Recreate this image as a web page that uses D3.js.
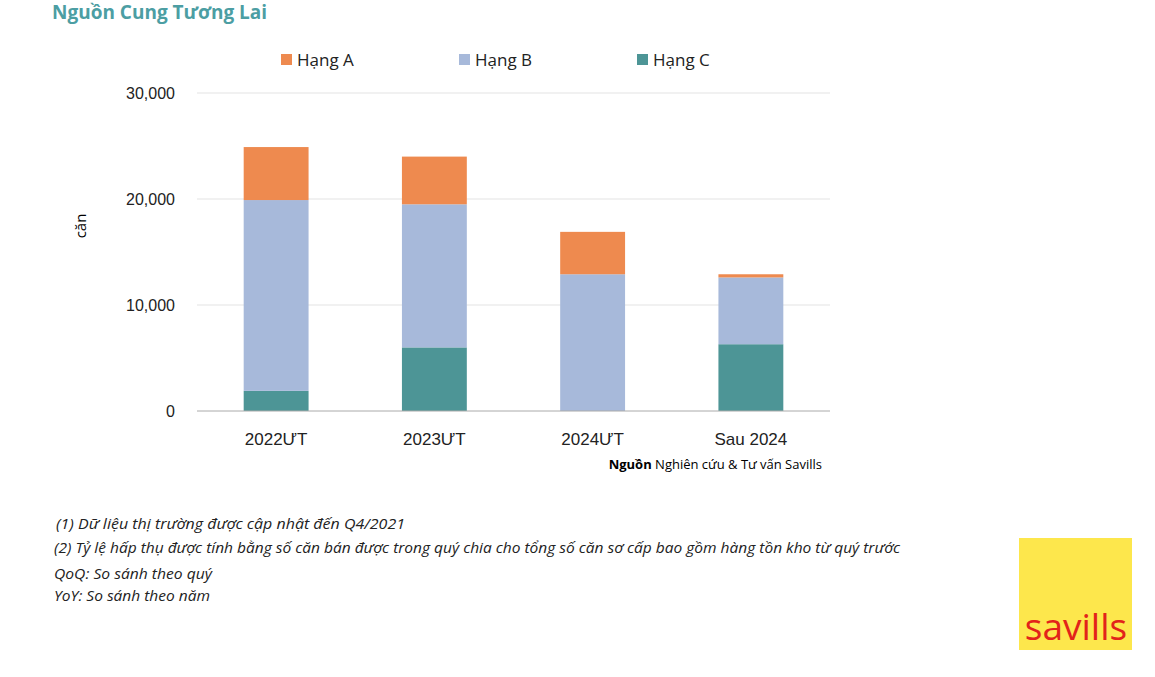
<!DOCTYPE html><html><head><meta charset="utf-8"><script src="https://d3js.org/d3.v7.min.js"></script>
<style>body{margin:0;background:#fff;font-family:"Open Sans",sans-serif}</style></head><body><svg id="c" width="1155" height="677"></svg>
<script>
const categories=["2022ƯT","2023ƯT","2024ƯT","Sau 2024"];
const hangA=[5000,4500,4000,300];
const hangB=[18000,13500,12900,6300];
const hangC=[1900,6000,0,6300];
const yTicks=[0,10000,20000,30000];
const seriesNames=["Hạng C","Hạng B","Hạng A"];
const colors={"Hạng A":"#ee8a4f","Hạng B":"#a7b9da","Hạng C":"#4d9596"};
const svg=d3.select("#c");
svg.append("text").attr("x",52).attr("y",19).attr("font-size",19).attr("font-weight",700).attr("fill","#4c9ea3").text("Nguồn Cung Tương Lai");
const x=d3.scaleBand().domain(categories).range([197,830]).paddingInner(0.59).paddingOuter(0.295);
const y=d3.scaleLinear().domain([0,30000]).range([411,93]);
const g=svg.append("g");
yTicks.forEach(t=>{ if(t>0) g.append("line").attr("x1",197).attr("x2",830).attr("y1",y(t)).attr("y2",y(t)).attr("stroke","#e3e3e3");});
const ya=svg.append("g").attr("transform","translate(178,0)").call(d3.axisLeft(y).tickValues(yTicks).tickFormat(d3.format(",")).tickSize(0));
ya.select(".domain").remove();ya.selectAll("text").attr("font-size",16).attr("fill","#222");
const rows=categories.map((c,i)=>({cat:c,"Hạng A":hangA[i],"Hạng B":hangB[i],"Hạng C":hangC[i]}));
const stack=d3.stack().keys(seriesNames)(rows);
stack.forEach(s=>{g.selectAll(null).data(s).enter().append("rect").attr("x",d=>x(d.data.cat)).attr("width",x.bandwidth()).attr("y",d=>y(d[1])).attr("height",d=>y(d[0])-y(d[1])).attr("fill",colors[s.key]);});
svg.append("line").attr("x1",197).attr("x2",830).attr("y1",411).attr("y2",411).attr("stroke","#aaa");
const xa=svg.append("g").attr("transform","translate(0,411)").call(d3.axisBottom(x).tickSize(0).tickPadding(22));
xa.select(".domain").remove();xa.selectAll("text").attr("font-size",17).attr("fill","#222");
svg.append("text").attr("transform","translate(86,226) rotate(-90)").attr("text-anchor","middle").attr("font-size",15).text("căn");
const leg=[["Hạng A",281],["Hạng B",459],["Hạng C",637]];
leg.forEach(([n,lx])=>{svg.append("rect").attr("x",lx).attr("y",54).attr("width",11).attr("height",11).attr("fill",colors[n]);svg.append("text").attr("x",lx+16).attr("y",66).attr("font-size",17).attr("fill","#222").text(n);});
svg.append("text").attr("x",822).attr("y",469).attr("text-anchor","end").attr("font-size",13).html('<tspan font-weight="700">Nguồn</tspan> Nghiên cứu &amp; Tư vấn Savills');
const notes=[[56,529,"(1) Dữ liệu thị trường được cập nhật đến Q4/2021",349],[54,553,"(2) Tỷ lệ hấp thụ được tính bằng số căn bán được trong quý chia cho tổng số căn sơ cấp bao gồm hàng tồn kho từ quý trước",846],[54,579,"QoQ: So sánh theo quý",158],[54,601,"YoY: So sánh theo năm",156]];
notes.forEach(([nx,ny,t,w])=>svg.append("text").attr("x",nx).attr("y",ny).attr("font-size",14).attr("font-style","italic").attr("fill","#222").attr("textLength",w).attr("lengthAdjust","spacingAndGlyphs").text(t));
svg.append("rect").attr("x",1019).attr("y",538).attr("width",113).attr("height",112).attr("fill","#fde74c");
svg.append("text").attr("x",1076).attr("y",640).attr("text-anchor","middle").attr("font-size",37).attr("fill","#e2231a").text("savills");
</script></body></html>
